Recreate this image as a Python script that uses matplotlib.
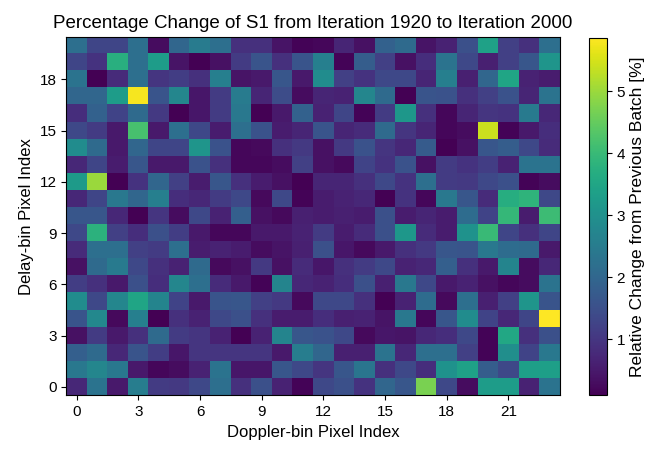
import numpy as np
import matplotlib
matplotlib.use('Agg')
import matplotlib.pyplot as plt

plt.rcParams['font.family'] = ['Liberation Sans', 'DejaVu Sans']

# relative change [%] per pixel, rows listed from delay index 20 (top) down to 0
rows_top_down = [
    [2.2, 1.3, 1.3, 2.2, 0.3, 2.0, 2.5, 2.2, 0.9, 0.9, 0.4, 0.15, 0.2, 0.7, 0.35, 1.9, 2.1, 0.4, 0.65, 1.5, 3.4, 1.2, 0.9, 2.2],
    [1.3, 0.95, 3.75, 2.2, 3.3, 0.4, 0.1, 0.35, 1.1, 1.6, 0.9, 1.6, 2.6, 0.15, 1.8, 1.2, 0.35, 0.85, 2.3, 1.35, 0.6, 1.2, 1.65, 3.1],
    [2.3, 0.1, 0.8, 2.2, 1.0, 1.15, 0.9, 2.6, 0.4, 0.5, 1.65, 0.5, 2.9, 1.2, 0.95, 1.35, 1.35, 0.7, 2.6, 0.6, 2.0, 3.5, 0.65, 0.55],
    [2.0, 2.0, 3.3, 5.8, 1.6, 2.75, 0.45, 1.1, 2.5, 0.7, 1.45, 0.3, 0.7, 0.65, 2.75, 2.1, 0.1, 1.6, 1.55, 0.9, 1.2, 1.55, 0.7, 2.3],
    [0.85, 1.9, 1.25, 2.1, 1.05, 0.1, 0.45, 1.1, 2.4, 0.1, 0.5, 1.9, 0.65, 1.3, 0.15, 1.1, 3.15, 0.9, 0.2, 0.7, 1.0, 0.95, 2.45, 0.75],
    [1.35, 1.1, 0.5, 4.2, 0.5, 2.2, 1.35, 0.55, 2.2, 1.55, 0.55, 0.7, 1.6, 0.7, 0.8, 2.1, 1.0, 0.7, 0.2, 0.3, 5.4, 0.15, 0.5, 0.85],
    [2.9, 2.1, 0.5, 2.0, 1.3, 1.3, 3.1, 1.55, 0.2, 0.25, 0.9, 1.05, 0.35, 1.05, 1.55, 1.0, 0.75, 1.75, 0.1, 0.35, 1.65, 1.8, 1.35, 0.8],
    [0.75, 1.3, 0.55, 1.65, 0.5, 0.5, 1.55, 0.9, 0.2, 0.2, 0.3, 1.2, 0.35, 0.25, 1.25, 0.95, 1.55, 0.35, 1.1, 0.95, 1.15, 0.65, 2.3, 2.3],
    [3.25, 5.0, 0.1, 0.95, 2.0, 1.2, 0.55, 1.65, 0.9, 0.55, 0.35, 0.1, 0.7, 0.7, 0.9, 1.35, 0.95, 2.2, 1.1, 1.05, 1.35, 1.5, 0.15, 0.3],
    [0.75, 1.3, 2.4, 2.0, 2.6, 0.85, 0.75, 1.1, 1.35, 0.25, 1.35, 0.15, 0.55, 0.65, 0.75, 0.1, 0.95, 0.2, 2.4, 1.65, 0.8, 3.7, 3.85, 1.35],
    [1.65, 1.65, 0.75, 0.1, 1.0, 0.3, 1.35, 0.65, 1.85, 0.35, 0.25, 0.6, 0.55, 0.6, 0.55, 1.5, 0.55, 0.7, 0.55, 2.15, 1.25, 3.95, 0.55, 4.05],
    [1.35, 3.8, 1.2, 0.85, 1.5, 1.15, 0.5, 0.2, 0.2, 0.5, 0.5, 0.65, 1.1, 0.55, 0.8, 1.5, 3.15, 0.8, 0.55, 3.05, 4.0, 1.3, 0.9, 1.3],
    [0.8, 2.2, 2.2, 1.2, 1.1, 2.2, 0.55, 0.65, 0.55, 0.3, 0.4, 0.6, 1.5, 0.45, 0.25, 0.5, 0.9, 1.05, 1.65, 1.6, 2.4, 2.15, 2.1, 0.5],
    [0.35, 2.1, 2.45, 1.35, 0.9, 0.65, 2.1, 0.25, 0.35, 1.05, 0.35, 0.8, 0.45, 0.9, 1.1, 1.35, 0.65, 0.75, 1.85, 0.9, 0.5, 2.7, 0.3, 0.75],
    [1.15, 0.9, 0.5, 1.5, 0.85, 2.75, 2.2, 0.8, 0.5, 0.15, 2.7, 0.75, 0.65, 0.85, 1.5, 0.6, 2.4, 1.35, 0.5, 0.65, 0.35, 0.2, 0.3, 2.3],
    [2.9, 1.35, 2.75, 3.5, 2.7, 1.25, 0.5, 1.6, 1.65, 1.2, 1.05, 0.25, 1.35, 1.35, 0.9, 0.1, 0.65, 2.15, 0.25, 2.2, 0.6, 1.2, 3.1, 1.6],
    [1.6, 2.8, 0.25, 2.6, 0.1, 0.9, 0.65, 1.35, 1.5, 0.9, 0.55, 0.55, 0.85, 0.6, 0.65, 0.4, 2.4, 0.2, 1.65, 2.9, 1.25, 0.75, 1.3, 5.87],
    [0.35, 1.1, 0.5, 0.9, 2.1, 1.1, 1.0, 0.65, 0.1, 0.65, 2.7, 1.65, 1.55, 1.35, 0.25, 0.45, 0.4, 0.75, 0.85, 1.35, 0.15, 3.55, 0.9, 1.5],
    [1.85, 2.1, 0.75, 1.6, 1.15, 0.45, 1.0, 1.0, 1.0, 1.0, 0.5, 2.55, 2.0, 0.6, 0.6, 2.3, 0.75, 2.2, 2.2, 1.2, 0.15, 2.95, 1.25, 2.4],
    [2.4, 2.75, 2.4, 0.5, 0.2, 0.3, 0.65, 2.3, 0.45, 0.45, 1.65, 1.35, 1.0, 1.65, 2.35, 0.9, 1.35, 0.85, 3.05, 3.4, 1.8, 1.35, 3.35, 3.35],
    [0.75, 2.3, 0.5, 2.55, 1.1, 1.05, 1.35, 2.2, 0.9, 1.5, 0.65, 0.15, 1.35, 1.5, 0.95, 2.0, 1.65, 4.7, 1.35, 0.3, 3.3, 3.3, 0.65, 2.3],
]

x_ticks = [0, 3, 6, 9, 12, 15, 18, 21]
y_ticks = [0, 3, 6, 9, 12, 15, 18]

change = np.flipud(np.array(rows_top_down))

fig = plt.figure(figsize=(6.64, 4.57), dpi=100)
ax = fig.add_axes([0.1, 0.1346, 0.743, 0.785])
cax = fig.add_axes([0.887, 0.1357, 0.0267, 0.782])

im = ax.imshow(change, origin='lower', aspect='auto', cmap='viridis')
ax.set_xticks(x_ticks)
ax.set_yticks(y_ticks)
ax.tick_params(labelsize=11)
ax.set_xlabel('Doppler-bin Pixel Index', fontsize=12)
ax.set_ylabel('Delay-bin Pixel Index', fontsize=12)
ax.set_title('Percentage Change of S1 from Iteration 1920 to Iteration 2000', fontsize=13.5)

cbar = fig.colorbar(im, cax=cax)
cbar.set_label('Relative Change from Previous Batch [%]', fontsize=12.5)
cbar.ax.tick_params(labelsize=11)

fig.savefig('out.png', dpi=100)
